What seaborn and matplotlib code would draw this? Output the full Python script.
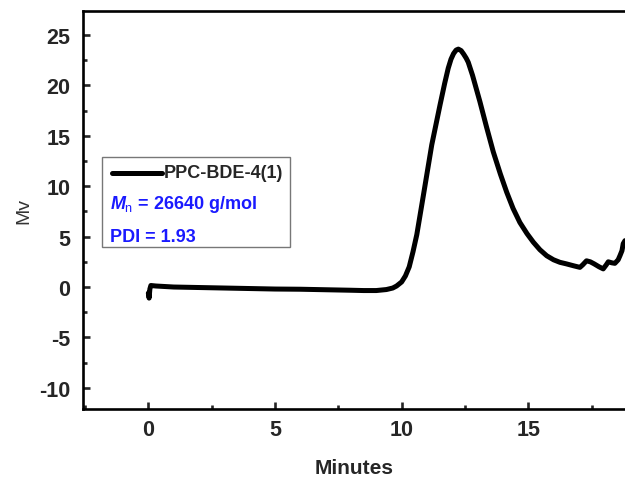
import matplotlib
matplotlib.use("Agg")
import matplotlib.pyplot as plt
import seaborn as sns
import pandas as pd
from matplotlib.patches import Rectangle
from matplotlib.lines import Line2D
from matplotlib.ticker import MultipleLocator

minutes = [0.0, 0.03, 0.06, 0.1, 0.3, 1, 2, 3, 4, 5, 6, 7, 8, 8.5, 9, 9.4, 9.65,
           9.8, 10.0, 10.15, 10.3, 10.45, 10.6, 10.86, 11.19, 11.52, 11.7, 11.84,
           11.95, 12.05, 12.15, 12.24, 12.35, 12.45, 12.55, 12.63, 12.8, 13.09,
           13.35, 13.62, 13.9, 14.15, 14.4, 14.67, 14.95, 15.2, 15.46, 15.73,
           16.0, 16.25, 16.5, 16.8, 17.04, 17.15, 17.3, 17.45, 17.6, 17.8, 17.96,
           18.08, 18.16, 18.3, 18.42, 18.55, 18.62, 18.7, 18.75, 18.82]
mv = [-0.6, -1.1, -0.2, 0.15, 0.1, 0.0, -0.05, -0.1, -0.15, -0.2, -0.22, -0.27,
      -0.32, -0.35, -0.35, -0.25, -0.1, 0.1, 0.5, 1.1, 2.0, 3.5, 5.2, 9.1, 14.1,
      18.1, 20.2, 21.7, 22.6, 23.15, 23.5, 23.6, 23.45, 23.1, 22.7, 22.3, 21.0,
      18.4, 15.9, 13.4, 11.2, 9.4, 7.8, 6.4, 5.3, 4.45, 3.7, 3.1, 2.7, 2.45,
      2.3, 2.1, 1.95, 2.2, 2.6, 2.5, 2.3, 2.0, 1.8, 2.2, 2.5, 2.4, 2.35, 2.7,
      3.1, 3.6, 4.3, 4.6]
series_label = "PPC-BDE-4(1)"
mn_text = r"$M_{\rm n}$ = 26640 g/mol"
pdi_text = "PDI = 1.93"
x_ticks = [0, 5, 10, 15]
y_ticks = [-10, -5, 0, 5, 10, 15, 20, 25]

sns.set_style("ticks")
plt.rcParams["font.family"] = ["Liberation Sans", "DejaVu Sans"]
plt.rcParams["axes.unicode_minus"] = False
plt.rcParams["mathtext.fontset"] = "custom"
plt.rcParams["mathtext.it"] = "Liberation Sans:italic:bold"
plt.rcParams["mathtext.rm"] = "Liberation Sans"
plt.rcParams["mathtext.bf"] = "Liberation Sans:bold"

df = pd.DataFrame({"Minutes": minutes, "Mv": mv})

fig = plt.figure(figsize=(6.25, 4.81), dpi=100)
ax = fig.add_axes([83 / 625, 1 - 410 / 481, 1 - 83 / 625, (410 - 12) / 481])
sns.lineplot(data=df, x="Minutes", y="Mv", sort=False, estimator=None,
             color="black", linewidth=3.6, ax=ax)

ax.set_xlim(-2.58, 18.82)
ax.set_ylim(-12.1, 27.38)
ax.set_xticks(x_ticks)
ax.set_yticks(y_ticks)
ax.xaxis.set_minor_locator(MultipleLocator(2.5))
ax.yaxis.set_minor_locator(MultipleLocator(2.5))
for s in ["left", "bottom", "top"]:
    ax.spines[s].set_linewidth(1.9)
    ax.spines[s].set_color("black")
ax.spines["right"].set_visible(False)
ax.tick_params(which="major", direction="in", length=5, width=1.9,
               labelsize=15.5, right=False, top=False)
ax.tick_params(which="minor", direction="in", length=3, width=1.9,
               right=False, top=False)
ax.tick_params(axis="y", which="major", pad=9)
ax.tick_params(axis="x", which="major", pad=7)
for lab in ax.get_xticklabels() + ax.get_yticklabels():
    lab.set_fontweight("bold")
ax.set_xlabel("Minutes", fontsize=15, fontweight="bold", labelpad=13)
ax.set_ylabel("Mv", fontsize=14, color="#333333", labelpad=5)

# legend box
fig.patches.append(Rectangle((102 / 625, 1 - 248 / 481), (290 - 102) / 625,
                             (248 - 158) / 481, transform=fig.transFigure,
                             facecolor="white", edgecolor="#777777",
                             linewidth=1.0, zorder=5))
fig.lines.append(Line2D([112 / 625, 162 / 625], [1 - 174 / 481, 1 - 174 / 481],
                        transform=fig.transFigure, color="black", linewidth=3.6,
                        zorder=6))
fig.text(164 / 625, 1 - 174 / 481, series_label, fontsize=13,
         fontweight="bold", va="center", ha="left", zorder=7)
fig.text(110 / 625, 1 - 205 / 481, mn_text, fontsize=13, fontweight="bold",
         color="#1a1aff", va="center", ha="left", zorder=7)
fig.text(110 / 625, 1 - 238 / 481, pdi_text, fontsize=13, fontweight="bold",
         color="#1a1aff", va="center", ha="left", zorder=7)

fig.savefig("out.png", dpi=100)
